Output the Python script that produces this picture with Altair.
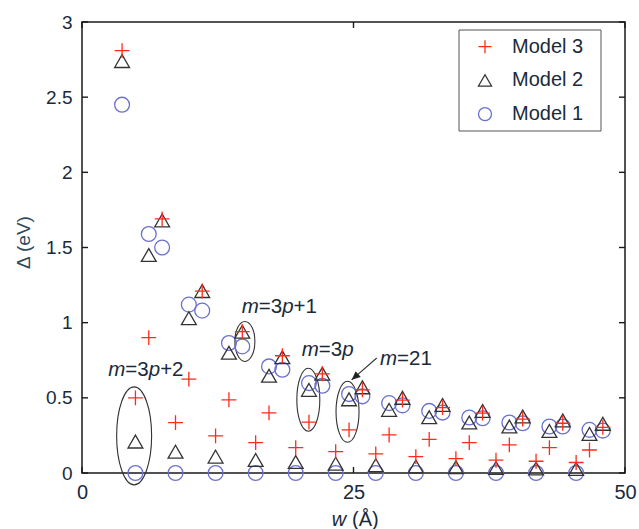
import altair as alt
import pandas as pd

# ---------------- data ----------------
m_values = [4, 5, 6, 7, 8, 9, 10, 11, 12, 13, 14, 15, 16, 17, 18, 19, 20, 21, 22,
            23, 24, 25, 26, 27, 28, 29, 30, 31, 32, 33, 34, 35, 36, 37, 38, 39, 40]
w_values = [3.69, 4.92, 6.15, 7.38, 8.61, 9.84, 11.07, 12.30, 13.53, 14.76, 15.99,
            17.22, 18.45, 19.68, 20.90, 22.13, 23.36, 24.59, 25.82, 27.05, 28.28,
            29.51, 30.74, 31.97, 33.20, 34.43, 35.66, 36.89, 38.12, 39.35, 40.58,
            41.81, 43.04, 44.27, 45.50, 46.73, 47.96]
model1 = [2.45, 0.0, 1.59, 1.50, 0.0, 1.12, 1.08, 0.0, 0.865, 0.842, 0.0, 0.709,
          0.687, 0.0, 0.598, 0.58, 0.0, 0.525, 0.51, 0.0, 0.465, 0.45, 0.0, 0.413,
          0.402, 0.0, 0.369, 0.364, 0.0, 0.336, 0.331, 0.0, 0.309, 0.309, 0.0,
          0.287, 0.282]
model2 = [2.74, 0.209, 1.45, 1.68, 0.142, 1.03, 1.21, 0.109, 0.80, 0.94, 0.087,
          0.647, 0.77, 0.073, 0.553, 0.66, 0.062, 0.49, 0.57, 0.052, 0.42, 0.50,
          0.044, 0.371, 0.453, 0.038, 0.336, 0.413, 0.034, 0.309, 0.376, 0.030,
          0.28, 0.349, 0.027, 0.26, 0.327]
model3 = [2.81, 0.50, 0.90, 1.69, 0.335, 0.625, 1.21, 0.247, 0.487, 0.94, 0.202,
          0.40, 0.78, 0.169, 0.338, 0.66, 0.142, 0.287, 0.553, 0.127, 0.253, 0.485,
          0.109, 0.224, 0.435, 0.096, 0.202, 0.398, 0.085, 0.187, 0.358, 0.078,
          0.169, 0.331, 0.07, 0.153, 0.304]

series_names = ["Model 3", "Model 2", "Model 1"]
x_ticks = [0, 25, 50]
y_ticks = [0, 0.5, 1, 1.5, 2, 2.5, 3]

# annotation anchors (data coordinates)
ellipse_w = [4.80, 15.0, 20.84, 24.45]
ellipse_d = [0.247, 0.875, 0.487, 0.407]
label_w = [2.42, 14.71, 20.23, 27.44]
label_d = [0.682, 1.107, 0.82, 0.76]
label_parts = [
    [("m", True), ("=3", False), ("p", True), ("+2", False)],
    [("m", True), ("=3", False), ("p", True), ("+1", False)],
    [("m", True), ("=3", False), ("p", True)],
    [("m", True), ("=21", False)],
]
arrow_w = [27.14, 24.83]
arrow_d = [0.765, 0.62]
xtitle_w = 22.99

# ---------------- styles ----------------
W, H = 543, 451
FONT = "Liberation Sans"
TXT = "#1a2a3a"
series_colors = ["#ff2a1a", "#333333", "#6b70cf"]
PLUS = "M-1,0L1,0M0,-1L0,1"
series_shapes = [PLUS, "triangle-up", "circle"]
ellipse_ratio = [0.357, 0.5, 0.365, 0.377]
ellipse_height = [98, 40, 63, 61]
LBL_FS = 20.5
char_w = {"m": 0.833, "=": 0.584, "p": 0.556, "+": 0.584,
          "1": 0.556, "2": 0.556, "3": 0.556}

rows = []
for name, vals in (("Model 1", model1), ("Model 2", model2), ("Model 3", model3)):
    for w, v in zip(w_values, vals):
        rows.append({"w": w, "delta": v, "model": name})
df = pd.DataFrame(rows)

xs = alt.Scale(domain=[0, 50], nice=False, zero=False)
ys = alt.Scale(domain=[0, 3], nice=False, zero=False)

x_axis = alt.Axis(
    values=x_ticks, title=None, labelFontSize=20, labelPadding=9, labelFlush=False,
    ticks=False, domain=False, grid=False, labelColor=TXT, labelFont=FONT, format="d")
y_axis = alt.Axis(
    values=y_ticks, title="Δ (eV)", labelFontSize=19, labelPadding=10, labelFlush=False,
    ticks=False, domain=False, grid=False, labelColor=TXT, labelFont=FONT, format="~g",
    titleFontSize=19, titleFont=FONT, titleFontWeight="normal", titleColor="#2f4a5c",
    titleX=-59, titleY=220, titleAlign="center", titleBaseline="middle", titleAngle=270)


def X(field):
    return alt.X(field, scale=xs, axis=x_axis, title=None)


def Y(field):
    return alt.Y(field, scale=ys, axis=y_axis, title="Δ (eV)")


legend = alt.Legend(
    title=None, orient="none", legendX=393, legendY=14.7, padding=0,
    strokeColor="transparent", symbolSize=170, symbolStrokeWidth=1.3,
    labelFontSize=20, labelColor=TXT, labelFont=FONT, labelOffset=17,
    rowPadding=13.7, zindex=1,
)

points = alt.Chart(df).mark_point(filled=False, size=220, strokeWidth=1.3, opacity=1).encode(
    x=X("w:Q"),
    y=Y("delta:Q"),
    color=alt.Color("model:N", scale=alt.Scale(domain=series_names, range=series_colors), legend=legend),
    shape=alt.Shape("model:N", scale=alt.Scale(domain=series_names, range=series_shapes), legend=legend),
)

one = pd.DataFrame({"k": [0]})
legend_box = alt.Chart(one).mark_rect(fill="white", stroke="#555555", strokeWidth=1).encode(
    x=alt.value(377), x2=alt.value(519), y=alt.value(8), y2=alt.value(109))

xt = pd.DataFrame({"t": x_ticks})
yt = pd.DataFrame({"t": y_ticks})
tick_style = dict(color="#1a1a1a", strokeWidth=1.4)
ticks = [
    alt.Chart(xt).mark_rule(**tick_style).encode(x=X("t:Q"), y=alt.value(H), y2=alt.value(H - 6)),
    alt.Chart(xt).mark_rule(**tick_style).encode(x=X("t:Q"), y=alt.value(0), y2=alt.value(6)),
    alt.Chart(yt).mark_rule(**tick_style).encode(y=Y("t:Q"), x=alt.value(0), x2=alt.value(6)),
    alt.Chart(yt).mark_rule(**tick_style).encode(y=Y("t:Q"), x=alt.value(W), x2=alt.value(W - 6)),
]

layers = [legend_box] + ticks

# ellipses
for ew, ed, r, h in zip(ellipse_w, ellipse_d, ellipse_ratio, ellipse_height):
    path = f"M0,-1A{r},1 0 1,1 0,1A{r},1 0 1,1 0,-1Z"
    layers.append(alt.Chart(pd.DataFrame({"w": [ew], "d": [ed]})).mark_point(
        shape=path, size=h * h, filled=False, stroke="#333333", strokeWidth=1.1, opacity=1).encode(
        x=X("w:Q"), y=Y("d:Q")))

# arrow to m=21
arrow_df = pd.DataFrame({"w": [arrow_w[0]], "d": [arrow_d[0]], "w2": [arrow_w[1]], "d2": [arrow_d[1]]})
layers.append(alt.Chart(arrow_df).mark_rule(color="#333333", strokeWidth=1.1).encode(
    x=X("w:Q"), y=Y("d:Q"), x2="w2:Q", y2="d2:Q"))
layers.append(alt.Chart(arrow_df).mark_point(
    shape="M0,0L-0.45,1L0.45,1Z", size=300, filled=True, color="#222222", opacity=1, angle=229).encode(
    x=X("w2:Q"), y=Y("d2:Q")))

# labels with italic m / p
for lw, ld, parts in zip(label_w, label_d, label_parts):
    dx = 0.0
    for text, italic in parts:
        layers.append(alt.Chart(pd.DataFrame({"w": [lw], "d": [ld]})).mark_text(
            text=text, align="left", baseline="middle", dx=dx, fontSize=LBL_FS, font=FONT,
            fontStyle="italic" if italic else "normal", color=TXT).encode(
            x=X("w:Q"), y=Y("d:Q")))
        dx += sum(char_w[c] for c in text) * LBL_FS

# x-axis title: italic w + (Å)
for text, italic, dx in (("w", True, 0), ("(Å)", False, 20.3)):
    layers.append(alt.Chart(pd.DataFrame({"w": [xtitle_w]})).mark_text(
        text=text, align="left", baseline="middle", dx=dx, fontSize=20, font=FONT,
        fontStyle="italic" if italic else "normal", color=TXT).encode(
        x=X("w:Q"), y=alt.value(H + 47)))

layers.append(points)

chart = alt.layer(*layers).properties(
    width=W, height=H,
    autosize=alt.AutoSizeParams(type="none"),
    padding={"left": 82, "top": 22, "right": 14, "bottom": 56},
    background="white",
).configure(font=FONT).configure_view(stroke="#1a1a1a", strokeWidth=1.5)

chart.save("out.html", embed_options={"renderer": "svg", "actions": False})
